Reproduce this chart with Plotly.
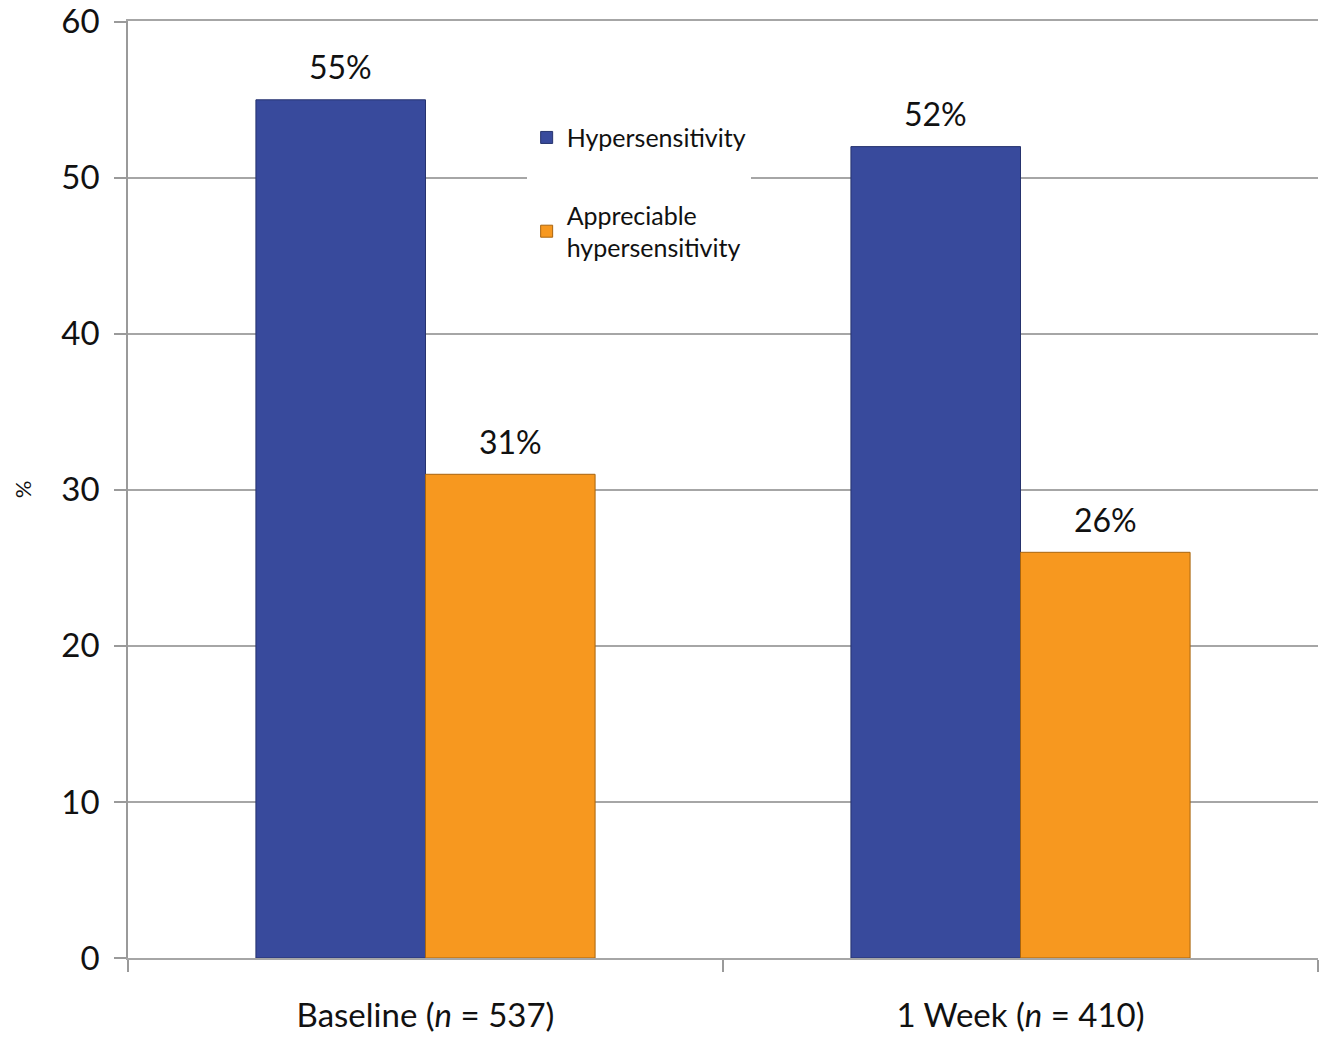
import plotly.graph_objects as go

# Share of patients with hypersensitivity at each visit
categories = ["Baseline (<i>n</i> = 537)", "1 Week (<i>n</i> = 410)"]
hypersensitivity = [55, 52]
appreciable = [31, 26]

series_names = ["Hypersensitivity", "Appreciable<br>hypersensitivity"]
series_values = [hypersensitivity, appreciable]
series_colors = ["#384a9c", "#f7981f"]
edge_colors = ["#26336e", "#a8640f"]

FONT = "Lato, 'Open Sans', sans-serif"
BAR_HALF_PX = 85  # half of one bar's width, used to centre value labels

fig = go.Figure()
for i, (name, vals) in enumerate(zip(series_names, series_values)):
    fig.add_trace(go.Bar(
        x=categories,
        y=vals,
        name=name,
        legendgroup=f"g{i}",
        marker=dict(color=series_colors[i], line=dict(color=edge_colors[i], width=1)),
        cliponaxis=False,
    ))
    # value labels above each bar
    for cat, v in zip(categories, vals):
        fig.add_annotation(
            x=cat, y=v, xref="x", yref="y",
            text=f"{v}%",
            showarrow=False,
            xshift=(-BAR_HALF_PX if i == 0 else BAR_HALF_PX),
            yshift=33,
            font=dict(size=32, family=FONT, color="#111111"),
        )

fig.update_layout(
    width=1329,
    height=1037,
    margin=dict(l=128, r=11, t=21, b=79),
    paper_bgcolor="white",
    plot_bgcolor="white",
    barmode="group",
    bargap=0.43,
    bargroupgap=0,
    font=dict(family=FONT, color="#111111"),
    legend=dict(
        x=0.335, y=0.900, xanchor="left", yanchor="top",
        bgcolor="white",
        font=dict(size=25, family=FONT),
        traceorder="grouped",
        tracegroupgap=42,
        itemwidth=30,
    ),
    xaxis=dict(
        automargin=False,
        showgrid=False,
        showline=True, linecolor="#a6a6a6", linewidth=1.5, mirror=True,
        ticks="outside", tickson="boundaries", ticklen=12, tickcolor="#9a9a9a", tickwidth=1.5,
        tickfont=dict(size=33, family=FONT, color="#111111"),
        ticklabelstandoff=28,
    ),
    yaxis=dict(
        automargin=False,
        range=[0, 60.05],
        tickmode="array", tickvals=[0, 10, 20, 30, 40, 50, 60],
        showgrid=True, gridcolor="#a6a6a6", gridwidth=1.5,
        showline=True, linecolor="#9a9a9a", linewidth=1.5,
        ticks="outside", ticklen=12, tickcolor="#9a9a9a", tickwidth=1.5,
        tickfont=dict(size=33, family=FONT, color="#111111"),
        ticklabelstandoff=8,
        zeroline=False,
        title=dict(text="%", font=dict(size=22, family=FONT, color="#111111"), standoff=24),
    ),
)

fig.write_html("out.html")
